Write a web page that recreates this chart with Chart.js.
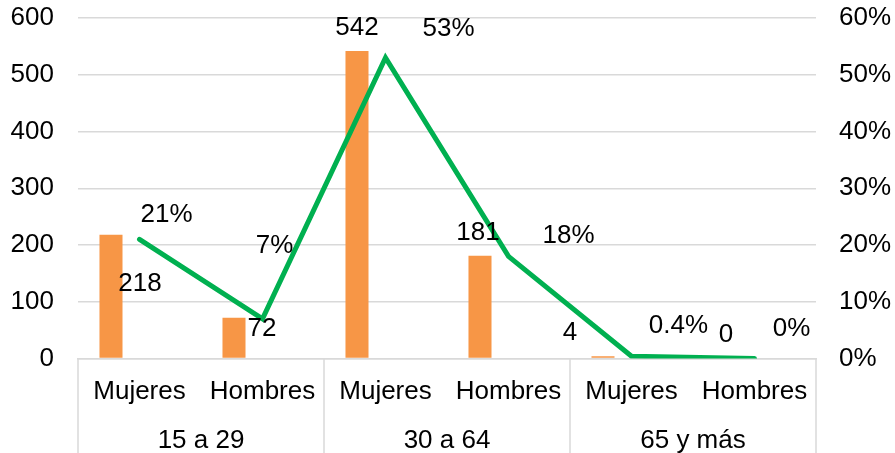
<!DOCTYPE html>
<html>
<head>
<meta charset="utf-8">
<script src="https://cdn.jsdelivr.net/npm/chart.js@4.4.1/dist/chart.umd.min.js"></script>
<style>
  html, body { margin: 0; padding: 0; background: #fff; }
  #wrap { width: 895px; height: 453px; position: relative; }
</style>
</head>
<body>
<div id="wrap"><canvas id="c"></canvas></div>
<script>
// Population by sex and age group, with each cell's share of the total
const sexLabels = ['Mujeres', 'Hombres', 'Mujeres', 'Hombres', 'Mujeres', 'Hombres'];
const ageGroups = ['15 a 29', '30 a 64', '65 y más'];
const counts = [218, 72, 542, 181, 4, 0];
const sharePct = [21, 7, 53, 18, 0.4, 0];
const countTicks = [0, 100, 200, 300, 400, 500, 600];
const shareTicks = [0, 10, 20, 30, 40, 50, 60];

// label placement relative to each mark (x, baseline offsets in px)
const countLabelOffsets = [[29, 56], [28, 18], [0, -16], [-2, -16], [-33, -16], [0, -17]];
const shareLabelOffsets = [[27, -17], [12, -66], [63, -22], [60, -13], [47, -23], [37, -23]];

const FONT = '"Liberation Sans", Arial, sans-serif';
const FS = 26;
const GRID = '#d9d9d9';

const valueLabels = {
  id: 'valueLabels',
  afterDatasetsDraw(chart) {
    const ctx = chart.ctx;
    ctx.save();
    ctx.font = FS + 'px ' + FONT;
    ctx.fillStyle = '#000';
    ctx.textAlign = 'center';
    ctx.textBaseline = 'alphabetic';
    chart.getDatasetMeta(0).data.forEach((el, i) => {
      const o = countLabelOffsets[i];
      ctx.fillText(String(counts[i]), el.x + o[0], el.y + o[1]);
    });
    chart.getDatasetMeta(2).data.forEach((el, i) => {
      const o = shareLabelOffsets[i];
      ctx.fillText(sharePct[i] + '%', el.x + o[0], el.y + o[1]);
    });
    ctx.restore();
  }
};

// second category row (age groups) with separators
const groupAxis = {
  id: 'groupAxis',
  afterDraw(chart) {
    const ctx = chart.ctx;
    const xs = chart.scales.x;
    const half = (xs.getPixelForValue(1) - xs.getPixelForValue(0)) / 2;
    const top = chart.chartArea.bottom;
    const bottom = chart.height;
    ctx.save();
    ctx.strokeStyle = GRID;
    ctx.lineWidth = 1.5;
    for (let g = 0; g <= ageGroups.length; g++) {
      const x = g < ageGroups.length
        ? xs.getPixelForValue(g * 2) - half
        : xs.getPixelForValue(sexLabels.length - 1) + half;
      ctx.beginPath();
      ctx.moveTo(Math.round(x), top);
      ctx.lineTo(Math.round(x), bottom);
      ctx.stroke();
    }
    ctx.font = FS + 'px ' + FONT;
    ctx.fillStyle = '#000';
    ctx.textAlign = 'center';
    ctx.textBaseline = 'alphabetic';
    ageGroups.forEach((g, i) => {
      const cx = (xs.getPixelForValue(i * 2) + xs.getPixelForValue(i * 2 + 1)) / 2;
      ctx.fillText(g, cx, 447.5);
    });
    ctx.restore();
  }
};

const fitY = w => s => { s.width = w; s.paddingTop = 0; s.paddingBottom = 0; };

new Chart(document.getElementById('c'), {
  data: {
    labels: sexLabels,
    datasets: [
      {
        type: 'bar', label: 'Personas', data: counts, yAxisID: 'y',
        backgroundColor: '#F79646', categoryPercentage: 0.927, barPercentage: 0.404, order: 2
      },
      {
        type: 'bar', label: '', data: sexLabels.map(() => null), yAxisID: 'y',
        backgroundColor: 'rgba(0,0,0,0)', categoryPercentage: 0.927, barPercentage: 0.404, order: 3
      },
      {
        type: 'line', label: '%', data: sharePct, yAxisID: 'y1',
        borderColor: '#00B050', borderWidth: 5, pointRadius: 0, tension: 0, order: 1,
        borderCapStyle: 'round', borderJoinStyle: 'miter'
      }
    ]
  },
  options: {
    responsive: true,
    maintainAspectRatio: false,
    devicePixelRatio: 1,
    animation: false,
    layout: { padding: { top: 18, left: 0, right: 0, bottom: 0 } },
    plugins: { legend: { display: false }, tooltip: { enabled: false } },
    scales: {
      x: {
        offset: true,
        grid: { display: false, drawTicks: false },
        border: { display: true, color: GRID, width: 1.5 },
        ticks: { color: '#000', font: { family: FONT, size: FS }, padding: 18, maxRotation: 0, autoSkip: false },
        afterFit: s => { s.height = 94.5; s.paddingLeft = 0; s.paddingRight = 0; }
      },
      y: {
        position: 'left', min: countTicks[0], max: countTicks[countTicks.length - 1],
        afterBuildTicks: s => { s.ticks = countTicks.map(v => ({ value: v })); },
        grid: { color: GRID, lineWidth: 1.5, drawTicks: false },
        border: { display: false },
        ticks: { color: '#000', font: { family: FONT, size: FS }, padding: 24 },
        afterFit: fitY(78)
      },
      y1: {
        position: 'right', min: shareTicks[0], max: shareTicks[shareTicks.length - 1],
        afterBuildTicks: s => { s.ticks = shareTicks.map(v => ({ value: v })); },
        grid: { display: false, drawTicks: false },
        border: { display: false },
        ticks: { color: '#000', font: { family: FONT, size: FS }, padding: 23, callback: v => v + '%' },
        afterFit: fitY(79)
      }
    }
  },
  plugins: [valueLabels, groupAxis]
});
</script>
</body>
</html>
